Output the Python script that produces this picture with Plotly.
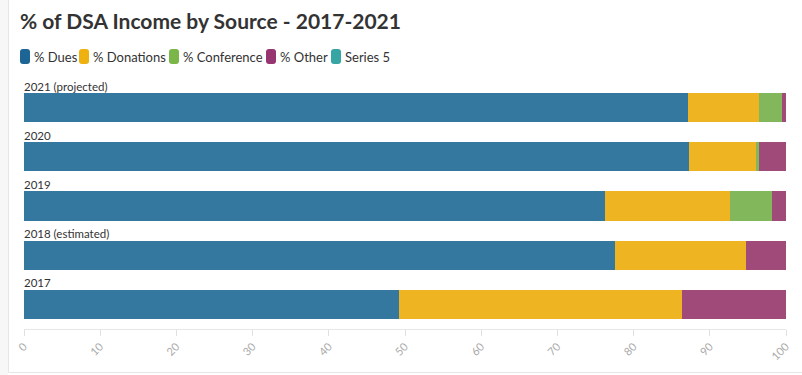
import plotly.graph_objects as go

categories = ["2021 (projected)", "2020", "2019", "2018 (estimated)", "2017"]
dues = [87.2, 87.3, 76.2, 77.5, 49.2]
donations = [9.2, 8.8, 16.5, 17.3, 37.1]
conference = [3.1, 0.4, 5.5, 0.0, 0.0]
other = [0.5, 3.5, 1.8, 5.2, 13.7]
series5 = [0, 0, 0, 0, 0]

series_names = ["% Dues", "% Donations", "% Conference", "% Other", "Series 5"]
series_values = [dues, donations, conference, other, series5]
colors = ["#3478a0", "#eeb422", "#82b85b", "#a04a7a", "#3aa6a3"]
legend_colors = ["#1d6595", "#eeb10f", "#7ab648", "#963570", "#38a5a5"]
x_ticks = list(range(0, 101, 10))

FONT = "Lato"
W, H = 802, 375
ML, MR, MT, MB = 24, 16, 83, 46
PW, PH = W - ML - MR, H - MT - MB


def px_x(px):
    return (px - ML) / PW


def px_y(py):
    return (H - MB - py) / PH


fig = go.Figure()
for name, vals, col in zip(series_names, series_values, colors):
    fig.add_trace(go.Bar(
        y=categories, x=vals, name=name, orientation="h",
        marker=dict(color=col, line=dict(width=0)),
        hoverinfo="x+name", showlegend=False,
    ))

# category labels above each bar (use category index on the category axis)
order = list(reversed(categories))
annotations = []
for cat in categories:
    annotations.append(dict(
        x=0, y=order.index(cat), xref="x", yref="y", text=cat, showarrow=False,
        xanchor="left", yanchor="bottom", yshift=13, xshift=-2,
        font=dict(family=FONT, size=11.5, color="#333333"),
    ))

# legend: swatch + label
legend_x = [20, 79, 169, 266, 331]
shapes = []
r = 3
for name, col, lx in zip(series_names, legend_colors, legend_x):
    x0, x1, y0, y1 = lx, lx + 10, 49, 64
    path = (f"M {px_x(x0 + r)},{px_y(y0)} L {px_x(x1 - r)},{px_y(y0)} "
            f"Q {px_x(x1)},{px_y(y0)} {px_x(x1)},{px_y(y0 + r)} "
            f"L {px_x(x1)},{px_y(y1 - r)} Q {px_x(x1)},{px_y(y1)} {px_x(x1 - r)},{px_y(y1)} "
            f"L {px_x(x0 + r)},{px_y(y1)} Q {px_x(x0)},{px_y(y1)} {px_x(x0)},{px_y(y1 - r)} "
            f"L {px_x(x0)},{px_y(y0 + r)} Q {px_x(x0)},{px_y(y0)} {px_x(x0 + r)},{px_y(y0)} Z")
    shapes.append(dict(type="path", xref="paper", yref="paper", path=path,
                       fillcolor=col, line=dict(width=0)))
    annotations.append(dict(
        x=px_x(lx + 12), y=px_y(56.5), xref="paper", yref="paper", text=name,
        showarrow=False, xanchor="left", yanchor="middle",
        font=dict(family=FONT, size=13, color="#333333"),
    ))

shapes += [
    dict(type="rect", xref="paper", yref="paper", x0=px_x(0), x1=px_x(8),
         y0=px_y(H), y1=px_y(0), fillcolor="#f7f7f7", line=dict(width=0), layer="below"),
    dict(type="line", xref="paper", yref="paper", x0=px_x(8.5), x1=px_x(8.5),
         y0=px_y(372.5), y1=px_y(0), line=dict(color="#e6e6e6", width=1)),
    dict(type="line", xref="paper", yref="paper", x0=px_x(8.5), x1=px_x(W),
         y0=px_y(372.5), y1=px_y(372.5), line=dict(color="#e6e6e6", width=1)),
]

fig.update_layout(
    width=W, height=H,
    margin=dict(l=ML, r=MR, t=MT, b=MB, autoexpand=False),
    paper_bgcolor="white", plot_bgcolor="white",
    barmode="stack", bargap=0.41,
    title=dict(text="<b>% of DSA Income by Source - 2017-2021</b>",
               x=20 / W, xanchor="left", y=1 - 22 / H, yanchor="middle",
               font=dict(family=FONT, size=21, color="#333333")),
    showlegend=False,
    xaxis=dict(range=[0, 100], tickvals=x_ticks, ticks="outside", ticklen=6,
               tickcolor="#e0e0e0", tickangle=-45, showgrid=False, zeroline=False,
               showline=True, linecolor="#e6e6e6", linewidth=1, automargin=False,
               tickfont=dict(family=FONT, size=11, color="#aaaaaa")),
    yaxis=dict(type="category", categoryorder="array", categoryarray=order,
               range=[-0.5, 4.5], showticklabels=False, showgrid=False,
               zeroline=False, showline=False, automargin=False),
    annotations=annotations,
    shapes=shapes,
)

fig.write_html("out.html", config={"displayModeBar": False},
               post_script="document.body.style.margin='0';")
